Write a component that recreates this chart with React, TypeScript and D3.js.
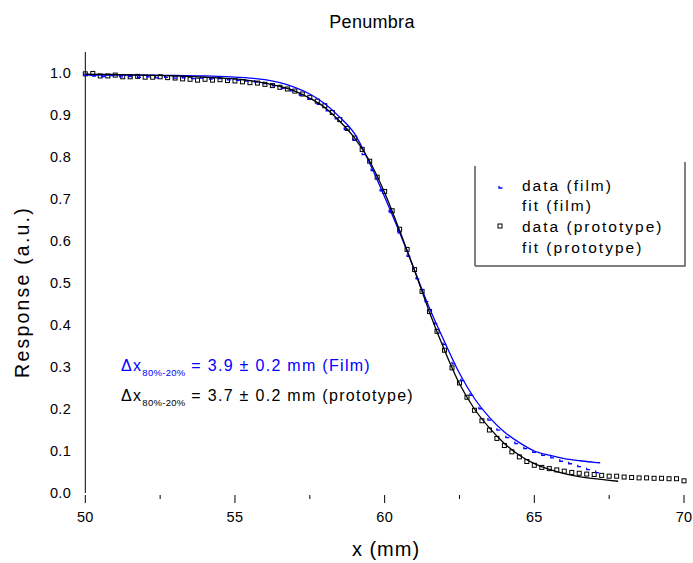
import React from "react";
import * as d3 from "d3";

const W = 693;
const H = 563;

// film fit (blue line)
const filmFitX = [50, 51, 52, 53, 54, 55, 55.5, 56, 56.5, 57, 57.5, 58, 58.5, 59, 59.5, 60, 60.5, 61, 61.5, 62, 62.5, 63, 63.5, 64, 64.5, 65, 65.5, 66, 66.5, 67, 67.2];
const filmFitY = [0.995, 0.995, 0.995, 0.994, 0.993, 0.99, 0.988, 0.984, 0.977, 0.966, 0.95, 0.927, 0.895, 0.855, 0.785, 0.705, 0.62, 0.53, 0.44, 0.36, 0.285, 0.225, 0.18, 0.145, 0.12, 0.1, 0.09, 0.082, 0.077, 0.073, 0.072];

// prototype fit (black line)
const protoFitX = [50, 51, 52, 53, 54, 55, 55.5, 56, 56.5, 57, 57.5, 58, 58.5, 59, 59.5, 60, 60.5, 61, 61.5, 62, 62.5, 63, 63.5, 64, 64.5, 65, 65.5, 66, 66.5, 67, 67.5, 67.8];
const protoFitY = [0.997, 0.996, 0.995, 0.993, 0.99, 0.986, 0.982, 0.976, 0.968, 0.957, 0.94, 0.918, 0.885, 0.845, 0.79, 0.715, 0.625, 0.53, 0.43, 0.34, 0.26, 0.2, 0.155, 0.118, 0.09, 0.07, 0.056, 0.046, 0.039, 0.034, 0.03, 0.028];

// film data (blue marks)
const filmDataX = [50.0, 50.3, 50.6, 50.9, 51.2, 51.5, 51.8, 52.1, 52.4, 52.7, 53.0, 53.3, 53.6, 53.9, 54.2, 54.5, 54.8, 55.1, 55.4, 55.7, 56.0, 56.3, 56.6, 56.9, 57.2, 57.5, 57.8, 58.1, 58.4, 58.7, 59.0, 59.3, 59.6, 59.9, 60.2, 60.5, 60.8, 61.1, 61.4, 61.7, 62.0, 62.3, 62.6, 62.9, 63.2, 63.5, 63.8, 64.1, 64.4, 64.7, 65.0, 65.3, 65.6, 65.9, 66.2, 66.5, 66.8, 67.1];
const filmDataY = [0.997, 0.995, 0.994, 0.996, 0.993, 0.994, 0.992, 0.993, 0.991, 0.992, 0.99, 0.991, 0.989, 0.99, 0.988, 0.989, 0.986, 0.985, 0.983, 0.981, 0.977, 0.972, 0.966, 0.96, 0.95, 0.94, 0.928, 0.912, 0.893, 0.868, 0.842, 0.808, 0.77, 0.722, 0.672, 0.622, 0.566, 0.512, 0.458, 0.405, 0.356, 0.31, 0.27, 0.235, 0.203, 0.176, 0.152, 0.134, 0.12, 0.108, 0.099, 0.092, 0.086, 0.078, 0.072, 0.065, 0.058, 0.051];

// prototype data (open squares)
const protoDataX = [50, 50.25, 50.5, 50.75, 51, 51.25, 51.5, 51.75, 52, 52.25, 52.5, 52.75, 53, 53.25, 53.5, 53.75, 54, 54.25, 54.5, 54.75, 55, 55.25, 55.5, 55.75, 56, 56.25, 56.5, 56.75, 57, 57.25, 57.5, 57.75, 58, 58.25, 58.5, 58.75, 59, 59.25, 59.5, 59.75, 60, 60.25, 60.5, 60.75, 61, 61.25, 61.5, 61.75, 62, 62.25, 62.5, 62.75, 63, 63.25, 63.5, 63.75, 64, 64.25, 64.5, 64.75, 65, 65.25, 65.5, 65.75, 66, 66.25, 66.5, 66.75, 67, 67.25, 67.5, 67.75, 68, 68.25, 68.5, 68.75, 69, 69.25, 69.5, 69.75, 70];
const protoDataY = [0.998, 0.999, 0.993, 0.993, 0.995, 0.991, 0.991, 0.992, 0.99, 0.99, 0.991, 0.989, 0.988, 0.986, 0.985, 0.983, 0.985, 0.983, 0.984, 0.982, 0.981, 0.979, 0.977, 0.976, 0.973, 0.97, 0.966, 0.962, 0.957, 0.95, 0.942, 0.933, 0.922, 0.906, 0.889, 0.868, 0.845, 0.818, 0.79, 0.752, 0.718, 0.672, 0.628, 0.58, 0.532, 0.48, 0.432, 0.385, 0.34, 0.298, 0.262, 0.228, 0.197, 0.172, 0.15, 0.13, 0.113, 0.098, 0.086, 0.075, 0.066, 0.061, 0.058, 0.055, 0.052, 0.049, 0.047, 0.045, 0.044, 0.042, 0.04, 0.04, 0.038, 0.037, 0.036, 0.036, 0.035, 0.035, 0.034, 0.034, 0.029];

const xTicks = [50, 55, 60, 65, 70];
const xMinorTicks = [52.5, 57.5, 62.5, 67.5];
const yTicks = [0, 0.1, 0.2, 0.3, 0.4, 0.5, 0.6, 0.7, 0.8, 0.9, 1.0];

const FONT = "Arial, 'Liberation Sans', sans-serif";

export default function App() {
  const x = d3.scaleLinear().domain([50, 70]).range([85.3, 684]);
  const y = d3.scaleLinear().domain([0, 1.05]).range([493, 52]);

  const line = d3
    .line<[number, number]>()
    .x((d) => x(d[0]))
    .y((d) => y(d[1]))
    .curve(d3.curveMonotoneX);

  const filmFit = filmFitX.map((v, i) => [v, filmFitY[i]] as [number, number]);
  const protoFit = protoFitX.map((v, i) => [v, protoFitY[i]] as [number, number]);

  const blue = "#0000ff";

  return (
    <svg width={W} height={H} style={{ position: "absolute", left: 0, top: 0, background: "#fff" }} fontFamily={FONT}>
      <rect x={0} y={0} width={W} height={H} fill="#fff" />
      <text x={372} y={28} textAnchor="middle" fontSize={18} letterSpacing={0.3}>Penumbra</text>

      {/* y axis */}
      <line x1={x(50)} x2={x(50)} y1={y(1.05)} y2={y(0)} stroke="#000" strokeWidth={1} />
      {yTicks.map((t) => (
        <text key={t} x={71} y={y(t) + 5} textAnchor="end" fontSize={14.5} letterSpacing={0.3}>
          {t.toFixed(1)}
        </text>
      ))}
      <text transform={`translate(29,292) rotate(-90)`} textAnchor="middle" fontSize={19.5} letterSpacing={2.2}>
        Response (a.u.)
      </text>

      {/* x axis ticks */}
      {xMinorTicks.map((t) => (
        <line key={t} x1={x(t)} x2={x(t)} y1={495} y2={499} stroke="#000" strokeWidth={1} />
      ))}
      {xTicks.map((t) => (
        <g key={t}>
          <line x1={x(t)} x2={x(t)} y1={495} y2={503} stroke="#000" strokeWidth={1} />
          <text x={x(t)} y={522} textAnchor="middle" fontSize={14.5} letterSpacing={0.3}>{t}</text>
        </g>
      ))}
      <text x={386} y={556} textAnchor="middle" fontSize={20} letterSpacing={1}>x (mm)</text>

      {/* prototype data */}
      {protoDataX.map((v, i) => (
        <rect key={"p" + i} x={x(v) - 2} y={y(protoDataY[i]) - 2} width={4} height={4} fill="none" stroke="#000" strokeWidth={1} />
      ))}
      {/* film data */}
      {filmDataX.map((v, i) => (
        <path key={"f" + i} d={`M${x(v) - 1.5},${y(filmDataY[i]) - 1} L${x(v) - 1.5},${y(filmDataY[i]) + 1} L${x(v) + 1.8},${y(filmDataY[i]) + 1}`} fill="none" stroke={blue} strokeWidth={1.3} />
      ))}
      {/* fits */}
      <path d={line(filmFit) || ""} fill="none" stroke={blue} strokeWidth={1.3} />
      <path d={line(protoFit) || ""} fill="none" stroke="#000" strokeWidth={1.3} />

      {/* legend */}
      <line x1={475} x2={475} y1={166} y2={266} stroke="#000" strokeWidth={1} />
      <line x1={685} x2={685} y1={162} y2={266} stroke="#555" strokeWidth={1.5} />
      <line x1={475} x2={685.5} y1={266} y2={266} stroke="#555" strokeWidth={1.5} />
      <path d="M499,186 L499,188 L502.5,188" fill="none" stroke={blue} strokeWidth={1.3} />
      <text x={522} y={190.5} fontSize={15.5} letterSpacing={2}>data (film)</text>
      <text x={522} y={211} fontSize={15.5} letterSpacing={2}>fit (film)</text>
      <rect x={498} y={224} width={4} height={4} fill="none" stroke="#000" strokeWidth={1} />
      <text x={522} y={231.5} fontSize={15.5} letterSpacing={2}>data (prototype)</text>
      <text x={522} y={252.5} fontSize={15.5} letterSpacing={2}>fit (prototype)</text>

      {/* annotations */}
      <text x={121} y={371} fontSize={16} fill={blue} letterSpacing={1.3}>
        Δx<tspan fontSize={9.5} dy={5} letterSpacing={0.3}>80%-20%</tspan>
        <tspan dy={-5}> = 3.9 ± 0.2 mm (Film)</tspan>
      </text>
      <text x={121} y={401} fontSize={16} fill="#000" letterSpacing={1.3}>
        Δx<tspan fontSize={9.5} dy={5} letterSpacing={0.3}>80%-20%</tspan>
        <tspan dy={-5}> = 3.7 ± 0.2 mm (prototype)</tspan>
      </text>
    </svg>
  );
}
